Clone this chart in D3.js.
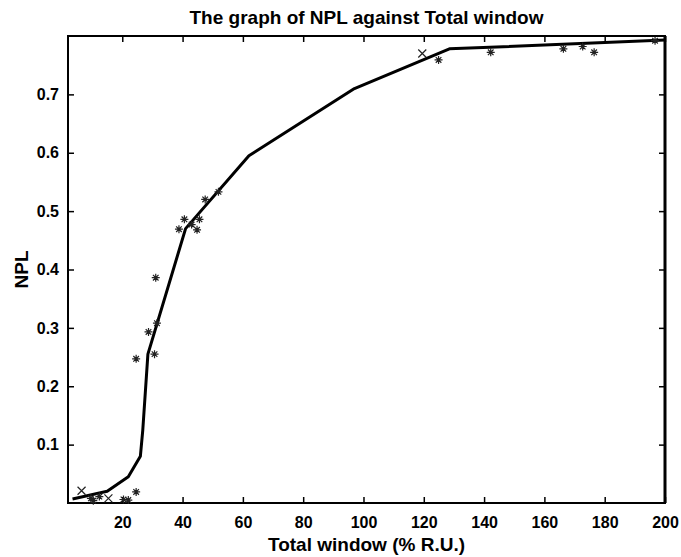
<!DOCTYPE html>
<html>
<head>
<meta charset="utf-8">
<script src="https://cdn.jsdelivr.net/npm/d3@7"></script>
<style>
  body { margin: 0; background: #fff; }
  text { font-family: "Liberation Sans", Arial, sans-serif; font-weight: bold; fill: #000; }
</style>
</head>
<body>
<div id="chart"></div>
<script>
// fitted curve (thick line)
let fitX = [3.5, 15, 22, 26, 26.8, 28.5, 41, 62, 97, 128.5, 200];
let fitY = [0.007, 0.02, 0.045, 0.08, 0.125, 0.255, 0.47, 0.595, 0.71, 0.778, 0.793];

// measured points, asterisk markers
let starX = [9.6, 10.4, 12.4, 20.4, 22, 24.6, 24.6, 28.7, 30.7, 31.5, 31.1, 38.8, 40.6, 43, 44.8, 45.6, 47.5, 51.9, 124.9, 142.2, 166.3, 172.7, 176.5, 196.7];
let starY = [0.008, 0.004, 0.011, 0.006, 0.005, 0.019, 0.247, 0.293, 0.255, 0.308, 0.386, 0.469, 0.486, 0.477, 0.468, 0.486, 0.52, 0.533, 0.759, 0.772, 0.778, 0.782, 0.772, 0.792];

// measured points, x markers
let crossX = [6.5, 15.4, 119.5];
let crossY = [0.021, 0.008, 0.770];

let xTicks = [20, 40, 60, 80, 100, 120, 140, 160, 180, 200];
let yTicks = [0.1, 0.2, 0.3, 0.4, 0.5, 0.6, 0.7];

let W = 681, H = 557;
let margin = {top: 36, right: 16, bottom: 54, left: 68};
let width = W - margin.left - margin.right;
let height = H - margin.top - margin.bottom;

let svg = d3.select("#chart").append("svg")
    .attr("width", W)
    .attr("height", H);

let g = svg.append("g")
    .attr("transform", "translate(" + margin.left + "," + margin.top + ")");

let x = d3.scaleLinear().domain([2, 200]).range([0, width]);
let y = d3.scaleLinear().domain([0, 0.8]).range([height, 0]);

// axes with inward ticks on all four sides
let fmt = d3.format(".1f");
g.append("g").attr("class", "x-axis")
    .attr("transform", "translate(0," + height + ")")
    .call(d3.axisBottom(x).tickValues(xTicks).tickSizeInner(-6).tickSizeOuter(0).tickPadding(14));
g.append("g").attr("class", "x-axis-top")
    .call(d3.axisTop(x).tickValues(xTicks).tickSizeInner(-6).tickSizeOuter(0).tickFormat(""));
g.append("g").attr("class", "y-axis")
    .call(d3.axisLeft(y).tickValues(yTicks).tickSizeInner(-6).tickSizeOuter(0).tickPadding(9).tickFormat(fmt));
g.append("g").attr("class", "y-axis-right")
    .attr("transform", "translate(" + width + ",0)")
    .call(d3.axisRight(y).tickValues(yTicks).tickSizeInner(-6).tickSizeOuter(0).tickFormat(""));

g.selectAll(".domain").remove();
g.selectAll(".tick line").attr("stroke", "#000").attr("stroke-width", 1.5);
g.selectAll(".tick text").style("font-size", "16px").style("font-family", "'Liberation Sans', Arial, sans-serif").style("font-weight", "bold");

// box
g.append("rect")
    .attr("width", width)
    .attr("height", height)
    .attr("fill", "none")
    .attr("stroke", "#000")
    .attr("stroke-width", 2);
g.append("line")
    .attr("x1", width).attr("x2", width)
    .attr("y1", 0).attr("y2", height)
    .attr("stroke", "#000")
    .attr("stroke-width", 3);

// fitted line
let fit = fitX.map((d, i) => ({x: d, y: fitY[i]}));
g.append("path")
    .datum(fit)
    .attr("fill", "none")
    .attr("stroke", "#000")
    .attr("stroke-width", 3)
    .attr("stroke-linejoin", "round")
    .attr("d", d3.line().x(d => x(d.x)).y(d => y(d.y)));

// markers
let r = 4;
let stars = starX.map((d, i) => ({x: d, y: starY[i]}));
g.selectAll(".star").data(stars).enter().append("path")
    .attr("class", "star")
    .attr("transform", d => "translate(" + x(d.x) + "," + y(d.y) + ")")
    .attr("d", "M" + (-r) + ",0H" + r + "M0," + (-r) + "V" + r +
               "M" + (-r * 0.7) + "," + (-r * 0.7) + "L" + (r * 0.7) + "," + (r * 0.7) +
               "M" + (-r * 0.7) + "," + (r * 0.7) + "L" + (r * 0.7) + "," + (-r * 0.7))
    .attr("stroke", "#222")
    .attr("stroke-width", 1.2)
    .attr("fill", "none");

let crosses = crossX.map((d, i) => ({x: d, y: crossY[i]}));
g.selectAll(".cross").data(crosses).enter().append("path")
    .attr("class", "cross")
    .attr("transform", d => "translate(" + x(d.x) + "," + y(d.y) + ")")
    .attr("d", "M" + (-r) + "," + (-r) + "L" + r + "," + r + "M" + (-r) + "," + r + "L" + r + "," + (-r))
    .attr("stroke", "#222")
    .attr("stroke-width", 1.2)
    .attr("fill", "none");

// title and labels
svg.append("text")
    .attr("x", margin.left + width / 2)
    .attr("y", 24)
    .attr("text-anchor", "middle")
    .style("font-size", "19px")
    .text("The graph of NPL against Total window");

svg.append("text")
    .attr("x", margin.left + width / 2)
    .attr("y", 551)
    .attr("text-anchor", "middle")
    .style("font-size", "19px")
    .text("Total window (% R.U.)");

svg.append("text")
    .attr("transform", "translate(28," + (margin.top + height / 2) + ") rotate(-90)")
    .attr("text-anchor", "middle")
    .style("font-size", "19px")
    .text("NPL");
</script>
</body>
</html>
